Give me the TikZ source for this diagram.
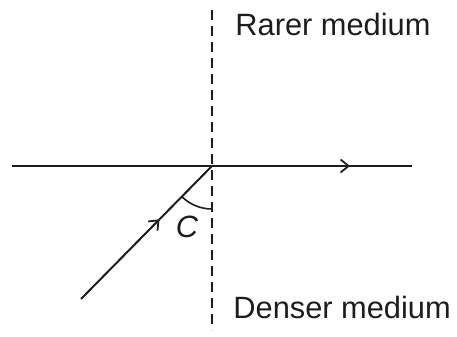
\documentclass[tikz,border=0pt]{standalone}
\usepackage{fontspec}
\setmainfont{Liberation Sans}
\usepackage{tikz}
\usetikzlibrary{arrows.meta,positioning,calc,decorations.markings}
\definecolor{ink}{HTML}{1D1D1B}
\tikzset{
  ray/.style={line width=1pt, draw=ink},
  normal/.style={line width=0.9pt, draw=ink, dash pattern=on 5pt off 3pt},
  midarr/.style={postaction={decorate}, decoration={markings,
    mark=at position #1 with {\arrow{Straight Barb[length=4pt,width=6.5pt,line width=0.9pt]}}}},
  lab/.style={font=\fontsize{15.4}{18}\selectfont, text=ink, inner sep=0pt},
}
\begin{document}
\begin{tikzpicture}[x=0.5pt,y=0.5pt]
    \useasboundingbox (0,0) rectangle (457,337);
    \coordinate (O) at (212,171);
    \coordinate (ntop) at (212,327);
    \coordinate (nbot) at (212,7);
    \coordinate (left) at (12,171);
    \coordinate (right) at (412,171);
    \coordinate (src) at (81,38);
    \draw[normal] (ntop) -- (nbot);
    \draw[ray, midarr=0.845] (left) -- (right);
    \draw[ray, midarr=0.6] (src) -- (O);
    \draw[ray, line width=0.8pt] ($(O)+(225:43)$) arc[start angle=225, end angle=270, radius=43];
    \node[lab, font=\fontsize{15.4}{18}\selectfont\itshape] (crit) at (187,110) {C};
    \node[lab, anchor=west] (rarer) at (235,313) {Rarer medium};
    \node[lab, anchor=west] (denser) at (233,30) {Denser medium};
  \end{tikzpicture}
\end{document}
